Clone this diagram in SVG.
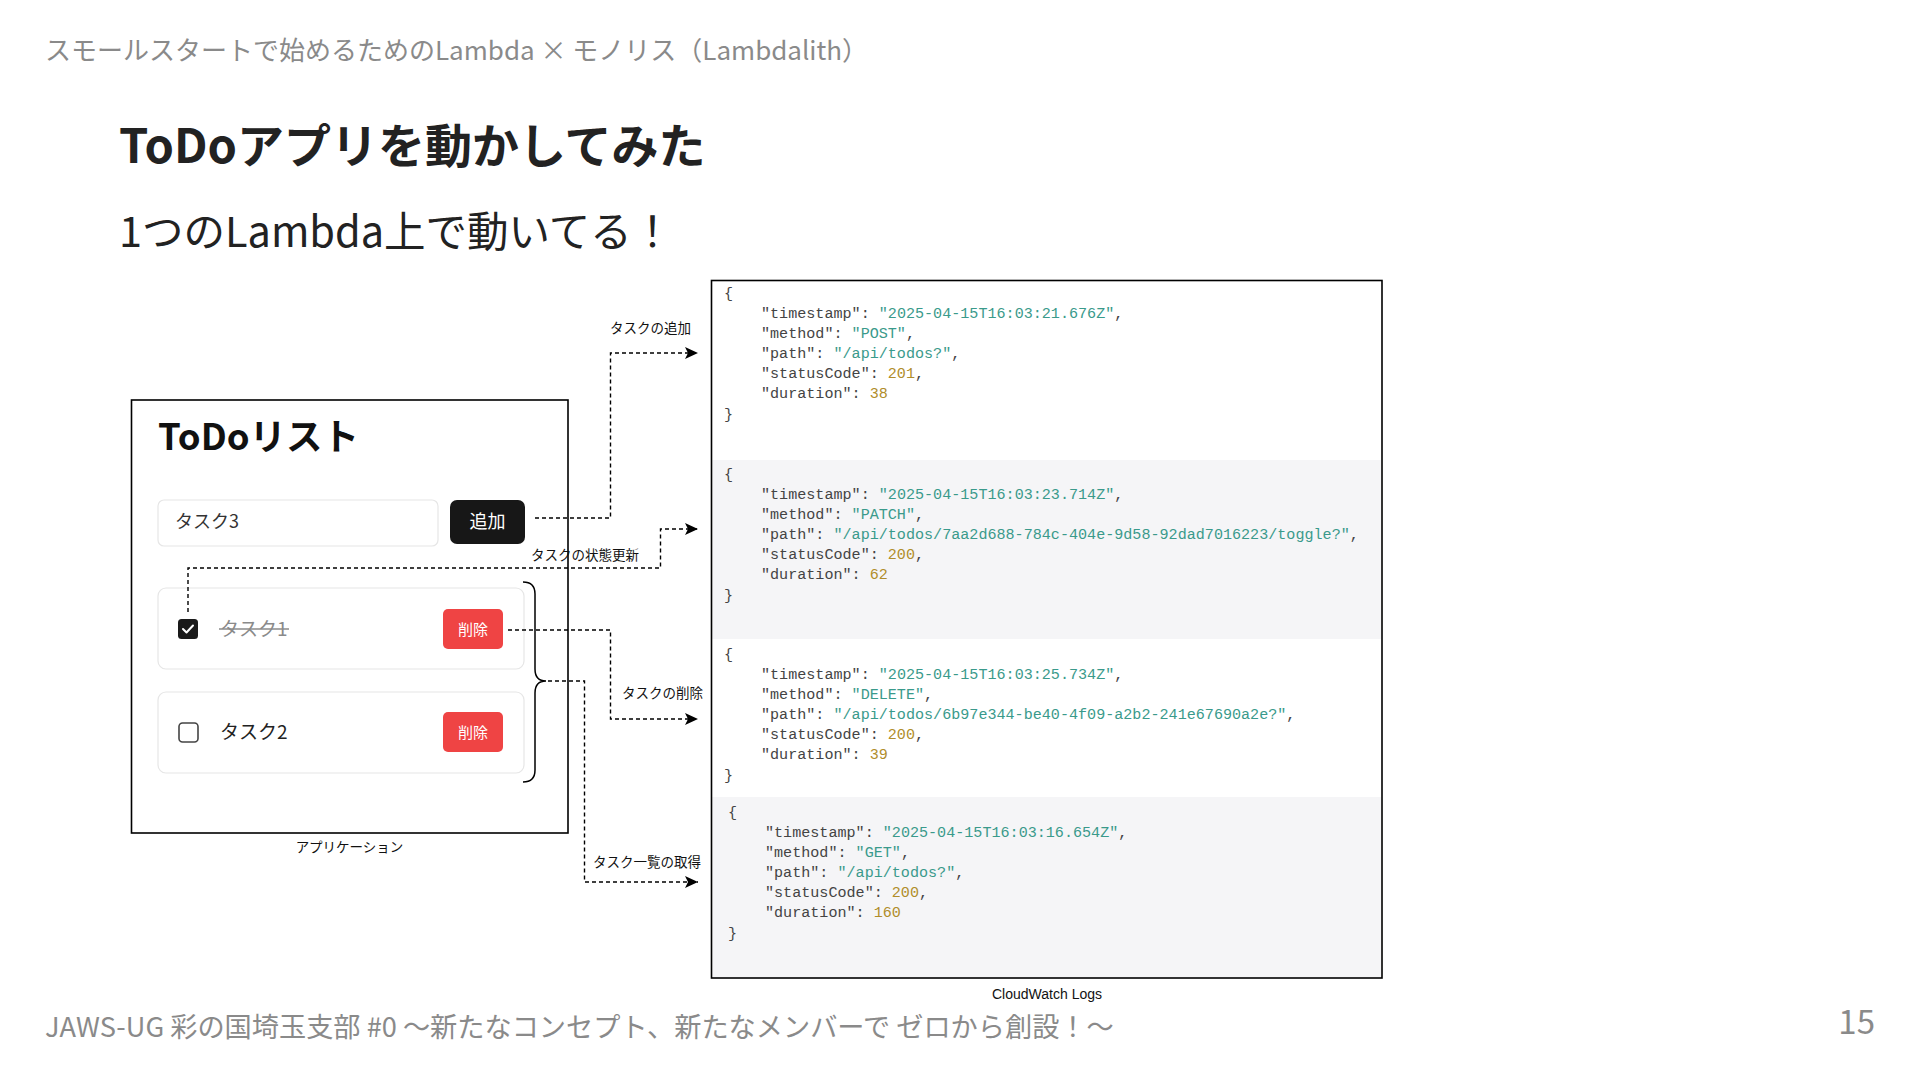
<svg xmlns="http://www.w3.org/2000/svg" width="1920" height="1080" viewBox="0 0 1920 1080">
<defs>
<style>
.jp{font-family:"Noto Sans CJK JP","Noto Sans",sans-serif}
.hdr{font-size:26px;fill:#8a8a8a}
.lbl{font-family:"Noto Sans CJK JP",sans-serif;font-size:13.5px;fill:#111}
.mono{font-family:"Liberation Mono","DejaVu Sans Mono",monospace;font-size:15.1px;fill:#444}
.s{fill:#3a9a8b}
.n{fill:#b08d2a}
.conn{fill:none;stroke:#000;stroke-width:1.4;stroke-dasharray:4 3}
.card{fill:#fff;stroke:#e6e6e6;stroke-width:1.2}
.del{fill:#ef4444}
.btxt{font-family:"Noto Sans CJK JP",sans-serif;fill:#fff;text-anchor:middle}
</style>
<marker id="ah" viewBox="0 0 13 12" refX="13" refY="6" markerWidth="13" markerHeight="12" markerUnits="userSpaceOnUse" orient="auto">
<path d="M0,0 L13,6 L0,12 L3,6 Z" fill="#000"/>
</marker>
</defs>
<rect width="1920" height="1080" fill="#fff"/>

<text class="jp hdr" x="45" y="60">スモールスタートで始めるためのLambda × モノリス（Lambdalith）</text>
<text class="jp" x="119" y="163" font-size="47" font-weight="bold" fill="#222">ToDoアプリを動かしてみた</text>
<text class="jp" x="119" y="247" font-size="41.5" fill="#222">1つのLambda上で動いてる！</text>

<g id="app">
<rect x="131.5" y="400" width="436.5" height="433" fill="#fff" stroke="#000" stroke-width="1.6"/>
<text class="jp" x="158" y="450" font-size="36.5" font-weight="bold" fill="#111">ToDoリスト</text>
<g id="input">
<rect x="158" y="500" width="280" height="46" rx="6" class="card"/>
<text class="jp" x="175" y="528" font-size="18" fill="#333">タスク3</text>
</g>
<g id="add-btn">
<rect x="450" y="500" width="75" height="44" rx="7" fill="#171717"/>
<text class="btxt" x="487.5" y="528" font-size="18">追加</text>
</g>
<g id="task1">
<rect x="158" y="588" width="366" height="81" rx="8" class="card"/>
<rect x="178" y="619" width="20" height="20" rx="3.5" fill="#1a1a1a"/>
<polyline points="183,629 186.5,632.5 193,625.5" fill="none" stroke="#fff" stroke-width="2" stroke-linecap="round" stroke-linejoin="round"/>
<text class="jp" x="220" y="635.5" font-size="19" fill="#8a8a8a">タスク1</text>
<line x1="219" y1="629" x2="289" y2="629" stroke="#8a8a8a" stroke-width="1.5"/>
<rect x="443" y="609" width="60" height="40" rx="5" class="del"/>
<text class="btxt" x="473" y="634.5" font-size="15">削除</text>
</g>
<g id="task2">
<rect x="158" y="692" width="366" height="81" rx="8" class="card"/>
<rect x="179" y="723" width="19" height="19" rx="3.5" fill="#fff" stroke="#444" stroke-width="1.6"/>
<text class="jp" x="220" y="739" font-size="19" fill="#222">タスク2</text>
<rect x="443" y="712" width="60" height="40" rx="5" class="del"/>
<text class="btxt" x="473" y="737.5" font-size="15">削除</text>
</g>
<path id="brace" d="M523,582 Q535,582 535,594 L535,669 Q535,681 546,681 Q535,681 535,693 L535,770 Q535,782 523,782" fill="none" stroke="#000" stroke-width="1.5"/>
<text class="lbl" x="349.5" y="852" text-anchor="middle">アプリケーション</text>
</g>

<g id="logs">
<rect x="711.5" y="280.5" width="670.5" height="697.5" fill="#fff"/>
<rect x="712" y="460" width="669" height="179" fill="#f5f5f7"/>
<rect x="712" y="797" width="669" height="180" fill="#f5f5f7"/>
<rect x="711.5" y="280.5" width="670.5" height="697.5" fill="none" stroke="#000" stroke-width="1.6"/>

<g id="log-post" class="mono">
<text x="724" y="298">{</text>
<text x="761" y="318">"timestamp": <tspan class="s">"2025-04-15T16:03:21.676Z"</tspan>,</text>
<text x="761" y="338">"method": <tspan class="s">"POST"</tspan>,</text>
<text x="761" y="358">"path": <tspan class="s">"/api/todos?"</tspan>,</text>
<text x="761" y="378">"statusCode": <tspan class="n">201</tspan>,</text>
<text x="761" y="398">"duration": <tspan class="n">38</tspan></text>
<text x="724" y="419">}</text>
</g>
<g id="log-patch" class="mono">
<text x="724" y="479">{</text>
<text x="761" y="499">"timestamp": <tspan class="s">"2025-04-15T16:03:23.714Z"</tspan>,</text>
<text x="761" y="519">"method": <tspan class="s">"PATCH"</tspan>,</text>
<text x="761" y="539">"path": <tspan class="s">"/api/todos/7aa2d688-784c-404e-9d58-92dad7016223/toggle?"</tspan>,</text>
<text x="761" y="559">"statusCode": <tspan class="n">200</tspan>,</text>
<text x="761" y="579">"duration": <tspan class="n">62</tspan></text>
<text x="724" y="600">}</text>
</g>
<g id="log-delete" class="mono">
<text x="724" y="659">{</text>
<text x="761" y="679">"timestamp": <tspan class="s">"2025-04-15T16:03:25.734Z"</tspan>,</text>
<text x="761" y="699">"method": <tspan class="s">"DELETE"</tspan>,</text>
<text x="761" y="719">"path": <tspan class="s">"/api/todos/6b97e344-be40-4f09-a2b2-241e67690a2e?"</tspan>,</text>
<text x="761" y="739">"statusCode": <tspan class="n">200</tspan>,</text>
<text x="761" y="759">"duration": <tspan class="n">39</tspan></text>
<text x="724" y="780">}</text>
</g>
<g id="log-get" class="mono">
<text x="728" y="817">{</text>
<text x="765" y="837">"timestamp": <tspan class="s">"2025-04-15T16:03:16.654Z"</tspan>,</text>
<text x="765" y="857">"method": <tspan class="s">"GET"</tspan>,</text>
<text x="765" y="877">"path": <tspan class="s">"/api/todos?"</tspan>,</text>
<text x="765" y="897">"statusCode": <tspan class="n">200</tspan>,</text>
<text x="765" y="917">"duration": <tspan class="n">160</tspan></text>
<text x="728" y="938">}</text>
</g>
<text x="1047" y="999" text-anchor="middle" font-family="Liberation Sans, Arial, sans-serif" font-size="14" fill="#111">CloudWatch Logs</text>
</g>

<g id="connectors">
<path class="conn" d="M535,518 H610.5 V353 H698" marker-end="url(#ah)"/>
<path class="conn" d="M188,612 V568 H660.5 V529 H698" marker-end="url(#ah)"/>
<path class="conn" d="M508,630 H610.5 V719 H698" marker-end="url(#ah)"/>
<path class="conn" d="M548,681 H584.5 V882 H698" marker-end="url(#ah)"/>
<text class="lbl" x="610" y="333">タスクの追加</text>
<text class="lbl" x="531" y="560">タスクの状態更新</text>
<text class="lbl" x="622" y="698">タスクの削除</text>
<text class="lbl" x="593" y="867">タスク一覧の取得</text>
</g>

<text class="jp" x="45" y="1037" font-size="27.2" fill="#8a8a8a">JAWS-UG 彩の国埼玉支部 #0 〜新たなコンセプト、新たなメンバーで ゼロから創設！〜</text>
<text class="jp" x="1875" y="1034" font-size="33" fill="#8a8a8a" text-anchor="end">15</text>
</svg>
